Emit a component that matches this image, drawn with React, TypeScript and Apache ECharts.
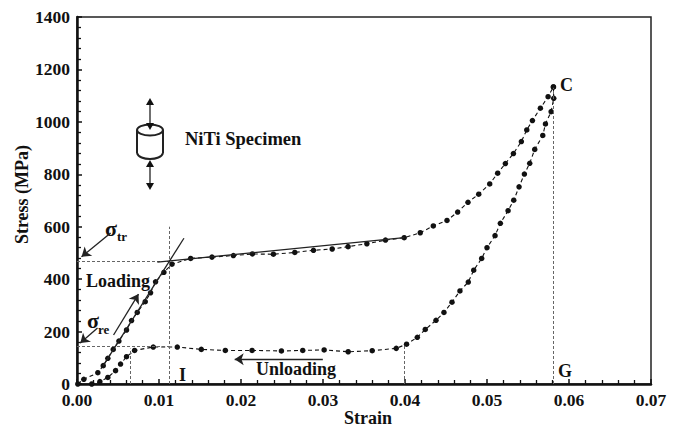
import React, { useEffect, useRef } from "react";
import * as echarts from "echarts";

const loadingX = [0.0001,0.00083,0.00254,0.0032,0.00376,0.00442,0.00511,0.00604,0.00665,0.00735,0.00832,0.00897,0.00958,0.0106,0.01158,0.01386,0.01646,0.01907,0.02139,0.02395,0.02656,0.02884,0.03112,0.03306,0.03535,0.03762,0.0399,0.04186,0.04345,0.04512,0.04642,0.04768,0.04899,0.05033,0.0513,0.05224,0.05322,0.05419,0.05485,0.05554,0.05651,0.05745,0.0581];
const loadingY = [0,18,43,70,98,132,164,206,242,273,314,348,390,426,457,479,484,490,496,495,502,510,515,524,535,549,558,577,603,624,656,693,724,763,804,841,879,925,969,1005,1052,1096,1133];
const unloadingX = [0.0581,0.05814,0.05782,0.05713,0.0568,0.05582,0.05521,0.05456,0.05391,0.05326,0.05257,0.05163,0.05098,0.05,0.04935,0.04838,0.04772,0.0467,0.04573,0.04475,0.04378,0.04247,0.0415,0.04019,0.03893,0.036,0.03307,0.03014,0.02753,0.02493,0.02135,0.01809,0.01516,0.01223,0.0093,0.00702,0.00604,0.00531,0.0047,0.00376,0.00279,0.0018];
const unloadingY = [1133,1090,1039,992,948,895,842,801,752,701,661,613,566,520,479,434,389,355,312,273,243,208,178,152,136,127,123,130,128,126,128,128,132,141,141,128,104,76,51,25,9,0];

const pairs = (xs: number[], ys: number[]) => xs.map((x, i) => [x, ys[i]]);
const FONT = '"Liberation Serif", serif';

const thin = { color: "#666", width: 1, type: [3, 2] as number[] };
const solid = { color: "#222", width: 1.3, type: "solid" as const };
const guides = [
  [[0, 470], [0.0113, 470]],
  [[0.01125, 0], [0.01125, 600]],
  [[0, 143], [0.0113, 143]],
  [[0.0065, 0], [0.0065, 135]],
  [[0.0399, 0], [0.0399, 150]],
  [[0.0581, 0], [0.0581, 1130]],
];
const tangents = [
  [[0.0098, 465], [0.0399, 558]],
  [[0.0032, 70], [0.01304, 556]],
];
const arrows = [
  [[0.0041, 576], [0.00055, 485]],
  [[0.0025, 214], [0.0004, 156]],
  [[0.00446, 187], [0.0075, 343]],
  [[0.02998, 94], [0.01923, 94]],
];

const lineMark = (data: number[][][], lineStyle: object, arrow: boolean) => ({
  type: "line",
  data: [],
  silent: true,
  markLine: {
    silent: true,
    animation: false,
    symbol: arrow ? ["none", "arrow"] : ["none", "none"],
    symbolSize: 9,
    label: { show: false },
    lineStyle,
    data: data.map(([a, b]) => [{ coord: a }, { coord: b }]),
  },
});

const text = (t: string, x: number, y: number, size = 18) => ({
  type: "text",
  x,
  y,
  style: { text: t, font: `bold ${size}px ${FONT}`, fill: "#111" },
});

const dot = { color: "#111", width: 1.1, type: [4, 3] as number[] };
const nameStyle = { fontFamily: FONT, fontWeight: "bold", fontSize: 18, color: "#111" };
const labelStyle = { fontFamily: FONT, fontWeight: "bold", fontSize: 17.5, color: "#111", lineHeight: 14 };
const axisLine = { lineStyle: { color: "#111", width: 2.5 } };
const axisTick = { inside: true, length: 5, lineStyle: { color: "#111", width: 1.5 } };
const minorTick = { show: true, splitNumber: 5, length: 4, lineStyle: { color: "#111", width: 1.3 } };

export default function App() {
  const ref = useRef<HTMLDivElement>(null);
  useEffect(() => {
    const chart = echarts.init(ref.current!, undefined, { renderer: "svg" });
    const stroke = { stroke: "#222", lineWidth: 2, fill: "none" };
    const thinStroke = { stroke: "#222", lineWidth: 1.3 };
    chart.setOption({
      animation: false,
      grid: { left: 77, right: 27, top: 17, bottom: 43, outerBoundsMode: "none", show: true, borderColor: "#222", borderWidth: 1.5, backgroundColor: "transparent" },
      xAxis: {
        type: "value", min: 0, max: 0.07, interval: 0.01, name: "Strain", nameLocation: "middle", nameGap: 25, nameMoveOverlap: false,
        nameTextStyle: { ...nameStyle, padding: [0, 0, 0, 8] },
        axisLine, axisTick, minorTick,
        splitLine: { show: false },
        axisLabel: { ...labelStyle, margin: 9, formatter: (v: number) => v.toFixed(2) },
      },
      yAxis: {
        type: "value", min: 0, max: 1400, interval: 200, name: "Stress (MPa)", nameLocation: "middle", nameGap: 46, nameMoveOverlap: false,
        nameTextStyle: { ...nameStyle, padding: [0, 0, 0, 12] },
        axisLine, axisTick, minorTick,
        splitLine: { show: false },
        axisLabel: { ...labelStyle, margin: 7, formatter: (v: number) => String(v) },
      },
      series: [
        { name: "Loading", type: "line", data: pairs(loadingX, loadingY), symbol: "circle", symbolSize: 5.5, itemStyle: { color: "#111" }, lineStyle: dot },
        { name: "Unloading", type: "line", data: pairs(unloadingX, unloadingY), symbol: "circle", symbolSize: 5.5, itemStyle: { color: "#111" }, lineStyle: dot },
        lineMark(guides, thin, false),
        lineMark(tangents, solid, false),
        lineMark(arrows, solid, true),
      ],
      graphic: [
        text("NiTi Specimen", 185, 129, 18.5),
        text("Loading", 86, 272),
        text("Unloading", 256, 360),
        text("C", 560, 76),
        text("G", 558, 362),
        text("I", 179, 366),
        text("σ", 105, 217, 22),
        text("tr", 117, 230, 13),
        text("σ", 87, 309, 22),
        text("re", 98, 323, 13),
        { type: "ellipse", shape: { cx: 150, cy: 130, rx: 13, ry: 5.5 }, style: stroke },
        { type: "line", shape: { x1: 137, y1: 130, x2: 137, y2: 153 }, style: stroke },
        { type: "line", shape: { x1: 163, y1: 130, x2: 163, y2: 153 }, style: stroke },
        { type: "bezierCurve", shape: { x1: 137, y1: 153, cpx1: 139, cpy1: 161, cpx2: 161, cpy2: 161, x2: 163, y2: 153 }, style: stroke },
        { type: "line", shape: { x1: 150, y1: 102, x2: 150, y2: 128 }, style: thinStroke },
        { type: "line", shape: { x1: 150, y1: 162, x2: 150, y2: 187 }, style: thinStroke },
        { type: "polygon", shape: { points: [[150, 98], [146, 105], [154, 105]] }, style: { fill: "#111" } },
        { type: "polygon", shape: { points: [[150, 130], [146, 123], [154, 123]] }, style: { fill: "#111" } },
        { type: "polygon", shape: { points: [[150, 160], [146, 167], [154, 167]] }, style: { fill: "#111" } },
        { type: "polygon", shape: { points: [[150, 190], [146, 183], [154, 183]] }, style: { fill: "#111" } },
      ],
    });
    return () => chart.dispose();
  }, []);
  return <div ref={ref} style={{ width: 678, height: 427, position: "fixed", left: 0, top: 0, background: "#fff" }} />;
}
